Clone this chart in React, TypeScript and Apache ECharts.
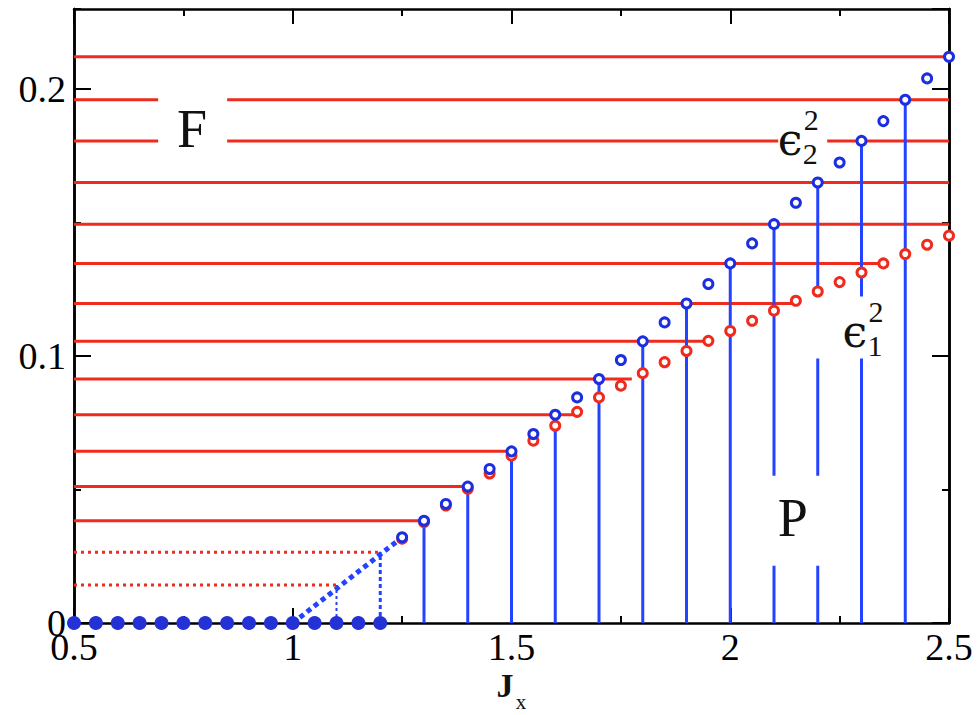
import React, { useEffect, useRef } from 'react';
import * as echarts from 'echarts';

const X_MIN = 0.5;
const X_MAX = 2.5;
const Y_MIN = 0;
const Y_MAX = 0.23;

// Flat branch: both gaps vanish for J_x <= 1.2
const zeroX = [0.5, 0.55, 0.6, 0.65, 0.7, 0.75, 0.8, 0.85, 0.9, 0.95, 1.0, 1.05, 1.1, 1.15, 1.2];

// Gapped branch
const jx = [1.25, 1.3, 1.35, 1.4, 1.45, 1.5, 1.55, 1.6, 1.65, 1.7, 1.75, 1.8, 1.85, 1.9, 1.95, 2.0,
  2.05, 2.1, 2.15, 2.2, 2.25, 2.3, 2.35, 2.4, 2.45, 2.5];
const eps2Sq = [0.0321, 0.0383, 0.0446, 0.0511, 0.0577, 0.0643, 0.0708, 0.078, 0.0845, 0.0914, 0.0985,
  0.1055, 0.1126, 0.1197, 0.127, 0.1347, 0.1422, 0.1494, 0.1574, 0.165, 0.1725, 0.1806, 0.188, 0.196,
  0.204, 0.2121];
const eps1Sq = [0.0316, 0.0378, 0.044, 0.0503, 0.056, 0.0627, 0.0683, 0.0739, 0.0791, 0.0845, 0.0889,
  0.0936, 0.0977, 0.1019, 0.1057, 0.1094, 0.1132, 0.117, 0.1207, 0.1242, 0.1277, 0.1313, 0.1347, 0.1382,
  0.1417, 0.1451];

// Vertical stems from the axis up to eps2^2
const stemX = [1.3, 1.4, 1.5, 1.6, 1.7, 1.8, 1.9, 2.0, 2.1, 2.2, 2.3, 2.4];

// Horizontal levels: eps2^2 at levelX, drawn from the left axis to levelEnd
const levelX = [1.3, 1.4, 1.5, 1.6, 1.7, 1.8, 1.9, 2.0, 2.1, 2.2, 2.3, 2.4, 2.5];
const levelEnd = [1.3, 1.4, 1.51, 1.65, 1.775, 1.95, 2.15, 2.35, 2.5, 2.5, 2.5, 2.5, 2.5];

// Dotted guides in the onset region
const guideX = [1.1, 1.2];
const guideY = [0.0142, 0.0265];

// Dotted ramp leaving the flat branch
const rampX = [1.0, 1.25];
const rampY = [0, 0.0321];

const xTickLabels = ['0.5', '1', '1.5', '2', '2.5'];
const yTickLabels = ['0', '0.1', '0.2'];

// Region and curve annotations
const noteText = ['F', 'P', 'ϵ', 'ϵ'];
const noteSup = ['', '', '2', '2'];
const noteSub = ['', '', '2', '1'];
const noteX = [0.77, 2.143, 2.137, 2.285];
const noteY = [0.1851, 0.0394, 0.1805, 0.1084];

const SERIF = 'Liberation Serif';
const GREEK = 'DejaVu Serif';
const RED = '#ee2b1c';
const BLUE_STEM = '#2443ff';
const BLUE_RING = '#1b2fe0';
const BLUE_DOT = '#2431d4';

// white knock-out box around each annotation: [dx, dy, w, h] from its anchor
const NOTE_BOX = [
  [-34, -38, 69, 72],
  [-33, -42, 70, 90],
  [-12, -35, 49, 65],
  [-43, -37, 78, 62],
];

const eps2At = (x: number) => eps2Sq[jx.findIndex((v) => Math.abs(v - x) < 1e-9)];

const txt = (text: string, x: number, y: number, size: number, family: string, weight = 'normal') => ({
  type: 'text',
  x,
  y,
  style: {
    text,
    fontSize: size,
    fontFamily: family,
    fontWeight: weight,
    fill: '#111',
    align: 'center',
    verticalAlign: 'middle',
  },
});

function buildOption(): any {
  const tickColor = '#000';
  const baseX = {
    type: 'value',
    min: X_MIN,
    max: X_MAX,
    interval: 0.5,
    splitLine: { show: false },
    axisLine: { show: true, onZero: false, lineStyle: { color: '#000', width: 2.5 } },
    axisTick: { show: true, inside: true, length: 15, lineStyle: { color: tickColor, width: 2 } },
    minorTick: { show: true, splitNumber: 2, length: 7, lineStyle: { color: tickColor, width: 2 } },
  };
  const baseY = {
    type: 'value',
    min: Y_MIN,
    max: Y_MAX,
    splitLine: { show: false },
    axisLine: { show: true, onZero: false, lineStyle: { color: '#000', width: 2.5 } },
  };
  const majorY = (position: string, labels: boolean) => ({
    ...baseY,
    position,
    interval: 0.1,
    axisTick: { show: true, inside: true, length: 17, lineStyle: { color: tickColor, width: 2 } },
    axisLabel: labels
      ? {
          show: true,
          margin: 8,
          color: '#000',
          fontFamily: SERIF,
          fontSize: 38,
          showMaxLabel: false,
          formatter: (v: number) => {
            const k = Math.round(v / 0.1);
            return Math.abs(v - k * 0.1) < 1e-6 && k < yTickLabels.length ? yTickLabels[k] : '';
          },
        }
      : { show: false },
  });
  const minorY = (position: string) => ({
    ...baseY,
    position,
    interval: 0.05,
    axisTick: { show: true, inside: true, length: 7, lineStyle: { color: tickColor, width: 2 } },
    axisLabel: { show: false },
  });

  const lineItem = (stroke: string, width: number, dash?: number[]) => ({
    stroke,
    lineWidth: width,
    lineDash: dash,
    lineCap: 'butt',
  });

  return {
    animation: false,
    backgroundColor: '#fff',
    grid: { left: 74, right: 28, top: 9, bottom: 92 },
    xAxis: [
      {
        ...baseX,
        position: 'bottom',
        axisLabel: {
          show: true,
          margin: 5,
          color: '#000',
          fontFamily: SERIF,
          fontSize: 38,
          formatter: (v: number) => xTickLabels[Math.round((v - X_MIN) / 0.5)] ?? '',
        },
      },
      { ...baseX, position: 'top', axisLabel: { show: false } },
    ],
    yAxis: [majorY('left', true), minorY('left'), majorY('right', false), minorY('right')],
    graphic: [
      {
        type: 'group',
        x: 511,
        y: 685,
        children: [txt('J', -6, 0, 34, SERIF, 'bold'), txt('x', 10, 17, 21, SERIF)],
      },
    ],
    series: [
      {
        name: 'levels',
        type: 'custom',
        z: 2,
        data: levelX.map((x, i) => [x, eps2At(x), levelEnd[i]]),
        renderItem: (_p: any, api: any) => {
          const y = api.value(1);
          const a = api.coord([X_MIN, y]);
          const b = api.coord([api.value(2), y]);
          return { type: 'line', shape: { x1: a[0], y1: a[1], x2: b[0], y2: b[1] }, style: lineItem(RED, 3) };
        },
      },
      {
        name: 'guide levels',
        type: 'custom',
        z: 2,
        data: guideX.map((x, i) => [x, guideY[i]]),
        renderItem: (_p: any, api: any) => {
          const a = api.coord([X_MIN, api.value(1)]);
          const b = api.coord([api.value(0), api.value(1)]);
          return { type: 'line', shape: { x1: a[0], y1: a[1], x2: b[0], y2: b[1] }, style: lineItem(RED, 3, [3, 4]) };
        },
      },
      {
        name: 'guide stems',
        type: 'custom',
        z: 3,
        data: guideX.map((x, i) => [x, guideY[i]]),
        renderItem: (p: any, api: any) => {
          const a = api.coord([api.value(0), 0]);
          const b = api.coord([api.value(0), api.value(1)]);
          const thick = p.dataIndex === 1;
          return {
            type: 'line',
            shape: { x1: a[0], y1: a[1], x2: b[0], y2: b[1] },
            style: lineItem(BLUE_STEM, thick ? 3 : 2, thick ? [4, 3] : [3, 3]),
          };
        },
      },
      {
        name: 'stems',
        type: 'custom',
        z: 3,
        data: stemX.map((x) => [x, eps2At(x)]),
        renderItem: (_p: any, api: any) => {
          const a = api.coord([api.value(0), 0]);
          const b = api.coord([api.value(0), api.value(1)]);
          return { type: 'line', shape: { x1: a[0], y1: a[1], x2: b[0], y2: b[1] }, style: lineItem(BLUE_STEM, 3) };
        },
      },
      {
        name: 'ramp',
        type: 'line',
        z: 3,
        symbol: 'none',
        data: rampX.map((x, i) => [x, rampY[i]]),
        lineStyle: { color: BLUE_STEM, width: 5, type: [5, 4], cap: 'butt' },
      },
      {
        name: 'notes',
        type: 'custom',
        z: 4,
        data: noteX.map((x, i) => [x, noteY[i]]),
        renderItem: (p: any, api: any) => {
          const i = p.dataIndex;
          const c = api.coord([api.value(0), api.value(1)]);
          const b = NOTE_BOX[i];
          const children: any[] = [
            { type: 'rect', shape: { x: c[0] + b[0], y: c[1] + b[1], width: b[2], height: b[3] }, style: { fill: '#fff' } },
          ];
          if (noteSup[i]) {
            children.push(
              txt(noteText[i], c[0], c[1] - 2, 44, GREEK),
              txt(noteSup[i], c[0] + 21, c[1] - 22, 30, SERIF),
              txt(noteSub[i], c[0] + 20, c[1] + 12, 30, SERIF),
            );
          } else {
            children.push(txt(noteText[i], c[0], c[1], 54, SERIF));
          }
          return { type: 'group', children };
        },
      },
      {
        name: 'eps1^2',
        type: 'scatter',
        z: 5,
        symbol: 'circle',
        symbolSize: 9,
        data: jx.map((x, i) => [x, eps1Sq[i]]),
        itemStyle: { color: '#fff', borderColor: RED, borderWidth: 3, opacity: 1 },
      },
      {
        name: 'eps2^2',
        type: 'scatter',
        z: 6,
        symbol: 'circle',
        symbolSize: 9,
        data: jx.map((x, i) => [x, eps2Sq[i]]),
        itemStyle: { color: '#fff', borderColor: BLUE_RING, borderWidth: 3, opacity: 1 },
      },
      {
        name: 'flat',
        type: 'scatter',
        z: 6,
        symbol: 'circle',
        symbolSize: 14,
        data: zeroX.map((x) => [x, 0]),
        itemStyle: { color: BLUE_DOT, opacity: 1 },
      },
    ],
  };
}

export default function App() {
  const ref = useRef<HTMLDivElement | null>(null);
  useEffect(() => {
    if (!ref.current) return;
    const chart = echarts.init(ref.current, null, { renderer: 'svg' });
    chart.setOption(buildOption());
    return () => chart.dispose();
  }, []);
  return (
    <div
      ref={ref}
      style={{ position: 'fixed', left: 0, top: 0, width: 977, height: 715, background: '#fff' }}
    />
  );
}
